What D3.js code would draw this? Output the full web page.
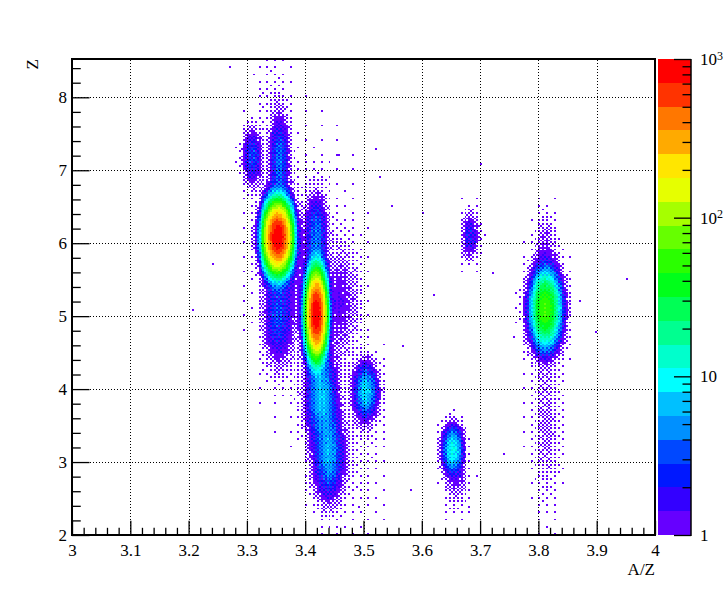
<!DOCTYPE html>
<html>
<head>
<meta charset="utf-8">
<script src="https://cdn.jsdelivr.net/npm/d3@7"></script>
<style>
body { margin: 0; background: #fff; }
text { font-family: "Liberation Serif", "Times New Roman", serif; font-size: 17px; fill: #000; }
</style>
</head>
<body>
<svg width="728" height="596"></svg>
<script>
// populations: centre (A/Z, Z), widths and peak counts per bin
var clusterAZ   = [3.353, 3.356, 3.309, 3.353, 3.419, 3.419, 3.460, 3.428, 3.440, 3.504, 3.653, 3.660, 3.683, 3.812, 3.812, 3.814, 3.812, 3.400, 3.385, 3.345, 3.490, 3.350];
var clusterZ    = [6.08,  7.15,  7.18,  5.00,  5.03,  6.10,  5.20,  3.90,  3.10,  3.97,  3.17,  2.75,  6.10,  5.10,  5.10,  3.50,  6.00,  5.60,  5.50,  8.00,  3.30,  6.10];
var clusterSAZ  = [0.0102, 0.009, 0.009, 0.013, 0.0075, 0.010, 0.018, 0.014, 0.014, 0.011, 0.009, 0.012, 0.0085, 0.012, 0.017, 0.014, 0.011, 0.050, 0.015, 0.015, 0.030, 0.016];
var clusterSZ   = [0.20,  0.32,  0.21,  0.35,  0.248, 0.30,  0.45,  0.32,  0.32,  0.20,  0.17,  0.25,  0.18,  0.24,  0.35,  0.60,  0.25,  1.10,  0.60,  0.35,  0.70,  0.35];
var clusterPeak = [1000,  4,     3,     3,     1000,  4,     1.0,   7,     6,     8,     11,    0.6,   2,     60,    2,     0.5,   0.6,   0.10,  0.6,   0.15,  0.12,  3];

// isolated single counts far from the populations
var strayAZ = [3.27, 3.31, 3.36, 3.52, 3.55, 3.60, 3.70, 3.72, 3.62, 3.49, 3.58, 3.76, 3.87, 3.90, 3.46, 3.53, 3.68, 3.74, 3.24, 3.21, 3.95, 3.57];
var strayZ  = [8.40, 8.30, 7.70, 7.30, 6.50, 6.40, 7.10, 5.60, 5.30, 2.40, 2.60, 4.70, 5.20, 4.80, 7.20, 6.90, 2.40, 3.10, 5.70, 5.10, 5.50, 4.60];

var xTicks = [3, 3.1, 3.2, 3.3, 3.4, 3.5, 3.6, 3.7, 3.8, 3.9, 4];
var yTicks = [2, 3, 4, 5, 6, 7, 8];
var zTicks = [1, 10, 100, 1000];
var zLabels = ["1", "10", "10", "10"];
var zExps   = ["", "", "2", "3"];

var palette = ["#6600ff", "#3300ff", "#0018ff", "#0048ff", "#0090ff", "#00c0ff", "#00ffff", "#00ffcc",
               "#00ff90", "#00ff55", "#00ff1a", "#2aff00", "#66ff00", "#a6ff00", "#e6ff00", "#ffe600",
               "#ffaa00", "#ff7700", "#ff3300", "#ff0000"];

var azMin = 3, azMax = 4, zMin = 2, zMax = 8.525;
var nAZ = 300, nZ = 261;
var dAZ = (azMax - azMin) / nAZ, dZ = (zMax - zMin) / nZ;

var svg = d3.select("svg");
svg.append("rect").attr("width", 728).attr("height", 596).attr("fill", "#fff");

var x = d3.scaleLinear().domain([azMin, azMax]).range([72, 655]);
var y = d3.scaleLinear().domain([zMin, zMax]).range([535, 59]);
var zs = d3.scaleLog().domain([1, 1000]).range([535, 59]);

function colourOf(n) {
  var k = Math.floor(Math.log10(n) / 3 * palette.length);
  return palette[Math.max(0, Math.min(palette.length - 1, k))];
}

// ordered dither matrix, used to break up the smooth density into single counts
function bayer(size) {
  var m = [[0]];
  while (m.length < size) {
    var s = m.length, r = [];
    for (var i = 0; i < 2 * s; i++) {
      r.push([]);
      for (var j = 0; j < 2 * s; j++) {
        var q = (i < s ? 0 : 2) + (j < s ? 0 : 1);
        r[i].push(m[i % s][j % s] * 4 + [0, 2, 3, 1][q]);
      }
    }
    m = r;
  }
  return m;
}
var B = bayer(8);

var counts = {};
for (var i = 0; i < nAZ; i++) {
  for (var j = 0; j < nZ; j++) {
    var a = azMin + (i + 0.5) * dAZ, z = zMin + (j + 0.5) * dZ;
    var e = 0;
    for (var k = 0; k < clusterAZ.length; k++) {
      var u = (a - clusterAZ[k]) / clusterSAZ[k], v = (z - clusterZ[k]) / clusterSZ[k];
      e += clusterPeak[k] * Math.exp(-0.5 * (u * u + v * v));
    }
    var b = (B[i % 8][j % 8] + 0.5) / 64;
    var n;
    if (e < 1) n = b < e ? 1 : 0;
    else n = Math.max(1, e + (b - 0.5) * 2.0 * Math.sqrt(e));
    if (n > 0) counts[i + "_" + j] = n;
  }
}
strayAZ.forEach(function(a, s) {
  var i = Math.floor((a - azMin) / dAZ), j = Math.floor((strayZ[s] - zMin) / dZ);
  if (!counts[i + "_" + j]) counts[i + "_" + j] = 1;
});

var cells = Object.keys(counts).map(function(key) {
  var p = key.split("_");
  return { i: +p[0], j: +p[1], n: counts[key] };
});

function x0(d) { return Math.round(x(azMin + d.i * dAZ)); }
function x1(d) { return Math.round(x(azMin + (d.i + 1) * dAZ)); }
function y0(d) { return Math.round(y(zMin + d.j * dZ)); }
function y1(d) { return Math.round(y(zMin + (d.j + 1) * dZ)); }

svg.append("g")
  .attr("shape-rendering", "crispEdges")
  .selectAll("rect")
  .data(cells)
  .join("rect")
  .attr("x", x0)
  .attr("width", function(d) { return x1(d) - x0(d); })
  .attr("y", y1)
  .attr("height", function(d) { return y0(d) - y1(d); })
  .attr("fill", function(d) { return colourOf(d.n); });

// grid
var grid = svg.append("g").attr("stroke", "#000").attr("stroke-width", 1).attr("stroke-dasharray", "1,2");
grid.selectAll("line.gx")
  .data(xTicks.slice(1, -1))
  .join("line")
  .attr("x1", function(d) { return Math.round(x(d)) + 0.5; })
  .attr("x2", function(d) { return Math.round(x(d)) + 0.5; })
  .attr("y1", 535).attr("y2", 59);
grid.selectAll("line.gy")
  .data(yTicks.slice(1))
  .join("line")
  .attr("class", "gy")
  .attr("y1", function(d) { return Math.round(y(d)) + 0.5; })
  .attr("y2", function(d) { return Math.round(y(d)) + 0.5; })
  .attr("x1", 72).attr("x2", 655);

// axes, ticks pointing into the frame
var xMinor = d3.range(0, 51).map(function(k) { return 3 + k * 0.02; }).filter(function(d, k) { return k % 5 != 0; });
var yMinor = d3.range(0, 33).map(function(k) { return 2 + k * 0.2; }).filter(function(d, k) { return k % 5 != 0; });

var gx = svg.append("g").attr("transform", "translate(0,535)")
  .call(d3.axisBottom(x).tickValues(xTicks).tickSize(-14.3).tickPadding(9).tickFormat(d3.format("~g")));
svg.append("g").attr("transform", "translate(0,535)")
  .call(d3.axisBottom(x).tickValues(xMinor).tickSize(-7.2).tickFormat(""));
var gy = svg.append("g").attr("transform", "translate(72,0)")
  .call(d3.axisLeft(y).tickValues(yTicks).tickSize(-17.5).tickPadding(5).tickFormat(d3.format("d")));
svg.append("g").attr("transform", "translate(72,0)")
  .call(d3.axisLeft(y).tickValues(yMinor).tickSize(-8.75).tickFormat(""));

// palette
svg.append("g")
  .attr("shape-rendering", "crispEdges")
  .selectAll("rect")
  .data(palette)
  .join("rect")
  .attr("x", 658)
  .attr("width", 33)
  .attr("y", function(c, k) { return zs(Math.pow(10, 3 * (k + 1) / palette.length)); })
  .attr("height", function(c, k) { return zs(Math.pow(10, 3 * k / palette.length)) - zs(Math.pow(10, 3 * (k + 1) / palette.length)); })
  .attr("fill", function(c) { return c; });

var zMinor = [];
[1, 10, 100].forEach(function(dec) { for (var m = 2; m <= 9; m++) zMinor.push(dec * m); });

var gz = svg.append("g").attr("transform", "translate(691,0)")
  .call(d3.axisRight(zs).tickValues(zTicks).tickSize(-17).tickPadding(9).tickFormat(""));
svg.append("g").attr("transform", "translate(691,0)")
  .call(d3.axisRight(zs).tickValues(zMinor).tickSize(-8.5).tickFormat(""));

gz.selectAll(".tick text").each(function(d, k) {
  var t = d3.select(this).text(zLabels[k]);
  if (zExps[k]) t.append("tspan").attr("dy", "-0.45em").style("font-size", "12px").text(zExps[k]);
});

svg.selectAll(".domain").remove();
svg.selectAll(".tick line").attr("stroke", "#000").attr("stroke-width", 1.3);
svg.selectAll(".tick text").style("font-family", "'Liberation Serif', serif").style("font-size", "17px");

// frame and palette axis line
svg.append("rect").attr("x", 72).attr("y", 59).attr("width", 583).attr("height", 476)
  .attr("fill", "none").attr("stroke", "#000").attr("stroke-width", 2);
svg.append("line").attr("x1", 691).attr("x2", 691).attr("y1", 59).attr("y2", 536)
  .attr("stroke", "#000").attr("stroke-width", 1.5);

// titles
svg.append("text").attr("x", 655).attr("y", 575).attr("text-anchor", "end").text("A/Z");
svg.append("text").attr("transform", "translate(38,59) rotate(-90)").attr("text-anchor", "end").text("Z");
</script>
</body>
</html>
